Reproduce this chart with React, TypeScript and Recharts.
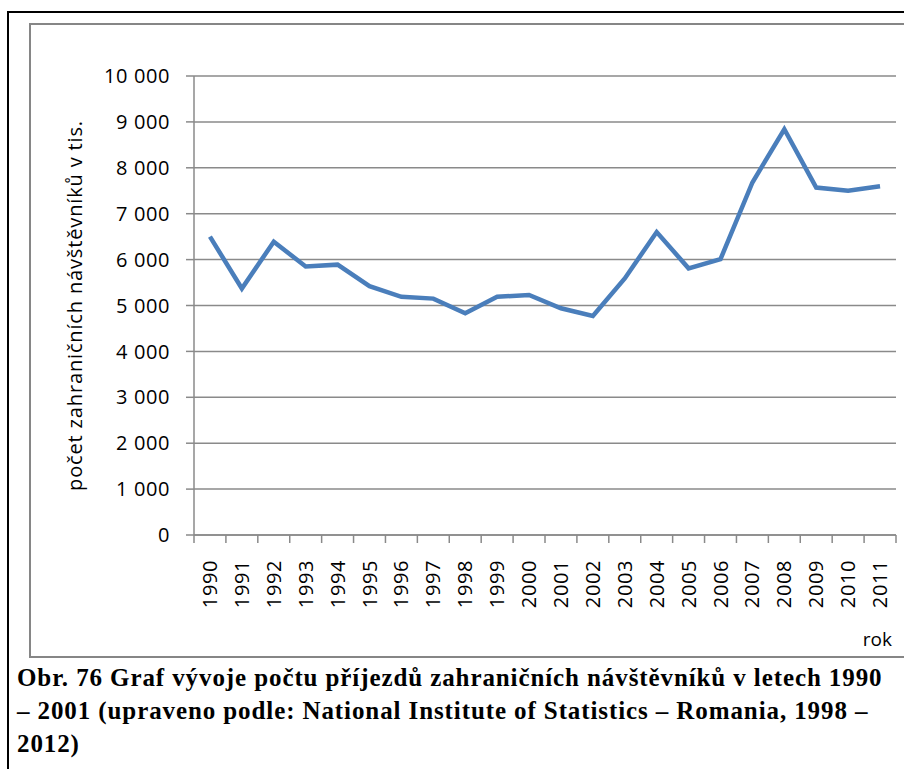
import { CartesianGrid, Line, LineChart, XAxis, YAxis } from "recharts";

const years = [
  "1990", "1991", "1992", "1993", "1994", "1995", "1996", "1997", "1998", "1999", "2000",
  "2001", "2002", "2003", "2004", "2005", "2006", "2007", "2008", "2009", "2010", "2011",
];
const visitors = [
  6500, 5370, 6390, 5850, 5890, 5420, 5190, 5150, 4830, 5190, 5230,
  4940, 4770, 5590, 6600, 5810, 6010, 7680, 8840, 7570, 7500, 7600,
];
const yTicks = [0, 1000, 2000, 3000, 4000, 5000, 6000, 7000, 8000, 9000, 10000];

const data = years.map((year, i) => ({ year, visitors: visitors[i] }));

const FONT = "'Open Sans', sans-serif";
const INK = "#000";
const GRID = "#8a8a8a";
const CHART_W = 904;
const Y_AXIS_W = 194;
const RIGHT = 8;
const BAND = (CHART_W - Y_AXIS_W - RIGHT) / years.length;

const fmt = (v: number) => String(v).replace(/\B(?=(\d{3})+(?!\d))/g, " ");

function YearTick(props: any) {
  const { x, y, payload, index } = props;
  const half = BAND / 2;
  return (
    <g>
      <line x1={x - half} x2={x - half} y1={y - 8} y2={y} stroke={GRID} strokeWidth={1.5} />
      {index === years.length - 1 && (
        <line x1={x + half} x2={x + half} y1={y - 8} y2={y} stroke={GRID} strokeWidth={1.5} />
      )}
      <text
        transform={`translate(${x + 7},${y + 17}) rotate(-90)`}
        textAnchor="end"
        fill={INK}
        fontSize={20}
        fontFamily={FONT}
        letterSpacing={0.6}
      >
        {payload.value}
      </text>
    </g>
  );
}

export default function App() {
  return (
    <div
      style={{
        position: "absolute",
        left: 0,
        top: 0,
        width: 904,
        height: 769,
        background: "#fff",
        overflow: "hidden",
      }}
    >
      <div
        style={{
          position: "absolute",
          left: 7,
          top: 11,
          width: 1000,
          height: 1000,
          border: "2px solid #000",
        }}
      />
      <div
        style={{
          position: "absolute",
          left: 29,
          top: 23,
          width: 1000,
          height: 635,
          boxSizing: "border-box",
          border: "2px solid #868686",
        }}
      />
      <div style={{ position: "absolute", left: 0, top: 0 }}>
        <LineChart width={CHART_W} height={660} data={data} margin={{ top: 76, right: RIGHT, bottom: 0, left: 0 }}>
          <CartesianGrid vertical={false} stroke={GRID} strokeWidth={1.5} />
          <XAxis
            dataKey="year"
            scale="band"
            height={125}
            interval={0}
            axisLine={{ stroke: GRID, strokeWidth: 1.5 }}
            tickLine={false}
            tickSize={8}
            tickMargin={0}
            tick={<YearTick />}
            label={{
              value: "rok",
              position: "insideBottomRight",
              offset: 4,
              dy: -10,
              fill: INK,
              fontSize: 19,
              fontFamily: FONT,
            }}
          />
          <YAxis
            width={Y_AXIS_W}
            domain={[0, 10000]}
            ticks={yTicks}
            tickFormatter={fmt}
            axisLine={{ stroke: GRID, strokeWidth: 1.5 }}
            tickLine={{ stroke: GRID, strokeWidth: 1.5 }}
            tickSize={8}
            tickMargin={16}
            tick={{ fill: INK, fontSize: 20, fontFamily: FONT, letterSpacing: 0.6 }}
            label={{
              value: "počet zahraničních návštěvníků v tis.",
              angle: -90,
              position: "insideLeft",
              offset: 75,
              fill: INK,
              fontSize: 20,
              fontFamily: FONT,
              letterSpacing: 0.85,
              style: { textAnchor: "middle" },
            }}
          />
          <Line
            type="linear"
            dataKey="visitors"
            stroke="#4a7ebb"
            strokeWidth={4.5}
            dot={false}
            isAnimationActive={false}
          />
        </LineChart>
      </div>
      <div
        style={{
          position: "absolute",
          left: 17,
          top: 661,
          fontFamily: "'Liberation Serif', 'Times New Roman', serif",
          fontWeight: "bold",
          fontSize: 25,
          letterSpacing: 0.9,
          lineHeight: "33px",
          color: "#000",
          whiteSpace: "nowrap",
        }}
      >
        Obr. 76 Graf vývoje počtu příjezdů zahraničních návštěvníků v letech 1990
        <br />
        – 2001 (upraveno podle: National Institute of Statistics – Romania, 1998 –
        <br />
        2012)
      </div>
    </div>
  );
}
